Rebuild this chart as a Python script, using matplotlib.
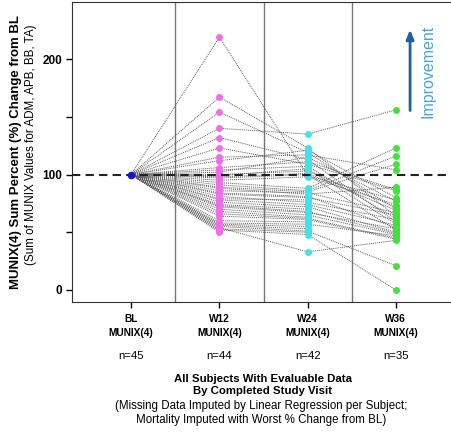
import numpy as np
import matplotlib
matplotlib.use("Agg")
import matplotlib.pyplot as plt

plt.rcParams['font.family'] = ['Liberation Sans', 'DejaVu Sans']

# visits and sample sizes
visits = ["BL\nMUNIX(4)", "W12\nMUNIX(4)", "W24\nMUNIX(4)", "W36\nMUNIX(4)"]
n_labels = ["n=45", "n=44", "n=42", "n=35"]

# % change from BL per subject (None = no value at that visit)
bl = [100] * 45
w12 = [219, 167, 154, 140, 132, 123, 115, 112, 106, 104, 102, 100, 99, 98, 97,
       95, 93, 91, 89, 88, 86, 84, 83, 81, 79, 78, 76, 74, 73, 72, 70, 68, 66,
       64, 60, 58, 57, 56, 55, 54, 53, 52, 51, 50, None]
w24 = [99, 123, 119, 135, 113, 109, 117, 121, 111, 107, 115, 103, 105, 101, 100,
       98, 88, 86, 85, 83, 84, 81, 80, 76, 78, 74, 72, 70, 68, 67, 65, 63, 62,
       61, 59, 57, 55, 53, 51, 33, 50, 48, None, None, None]
w36 = [78, 64, 70, 156, 59, 86, 104, 80, 87, 62, 77, 72, 57, 69, 52,
       74, 123, 116, 109, 89, 67, 54, 65, 61, None, 56, 50, None, 49, 53, 48, None, 45,
       44, None, 47, None, None, 21, 43, None, 0, None, None, None]

colors = ["#1414d8", "#ee6ee8", "#40e2ee", "#42e23c"]

fig = plt.figure(figsize=(4.52, 4.33), dpi=100)
ax = fig.add_axes([72 / 452, 1 - 302 / 433, 1 - 72 / 452, 300 / 433])

data = np.array([bl, w12, w24, w36], dtype=float)
x = np.arange(4)

# subject lines
for s in range(data.shape[1]):
    ys = data[:, s]
    ok = ~np.isnan(ys)
    if ok.sum() > 1:
        ax.plot(x[ok], ys[ok], linestyle=(0, (1, 1)), color="#5a5a5a", lw=0.7, zorder=2)

# separators and reference line
for sep in [0.5, 1.5, 2.5]:
    ax.axvline(sep, color="#777777", lw=1.0, zorder=1)
ax.axhline(100, color="#222222", lw=1.5, linestyle=(0, (4, 2.5)), zorder=4)

for i in range(1, 4):
    ys = data[i][~np.isnan(data[i])]
    ax.plot(np.full(len(ys), i), ys, "o", color=colors[i], ms=5, mec="none", zorder=3)
ax.plot([0], [100], "o", color=colors[0], ms=5.5, mec="none", zorder=5)

ax.set_xlim(-0.67, 3.635)
ax.set_ylim(-10.4, 249.4)
ax.set_yticks([0, 100, 200])
ax.set_yticks([50, 150], minor=True)
ax.tick_params(axis="y", which="both", length=4, width=1, labelsize=8.5, pad=3)
for t in ax.get_yticklabels():
    t.set_fontweight("bold")
ax.set_xticks(x)
ax.set_xticklabels([])
ax.tick_params(axis="x", length=4, width=1)
ax.spines["right"].set_visible(False)
for sp in ["left", "bottom", "top"]:
    ax.spines[sp].set_color("#333333")

# improvement arrow
ax.annotate("", xy=(3.16, 228), xytext=(3.16, 153),
            arrowprops=dict(arrowstyle="-|>,head_width=0.22,head_length=0.55",
                            color="#1f5fa6", lw=2), zorder=6)
ax.text(3.36, 189, "Improvement", rotation=90, ha="center", va="center",
        color="#4aa3d8", fontsize=11.5)

# category labels below axis
for i in range(4):
    xf = (131 + i * 88.3) / 452
    fig.text(xf, 1 - 326 / 433, visits[i], ha="center", va="center",
             fontsize=7.3, fontweight="bold", linespacing=1.45)
    fig.text(xf, 1 - 356 / 433, n_labels[i], ha="center", va="center", fontsize=8.2)

fig.text(263 / 452, 1 - 385 / 433,
         "All Subjects With Evaluable Data\nBy Completed Study Visit",
         ha="center", va="center", fontsize=8.2, fontweight="bold", linespacing=1.2)
fig.text(261 / 452, 1 - 413 / 433,
         "(Missing Data Imputed by Linear Regression per Subject;\n"
         "Mortality Imputed with Worst % Change from BL)",
         ha="center", va="center", fontsize=8.3, linespacing=1.15)

fig.text(16 / 452, 1 - 152 / 433, "MUNIX(4) Sum Percent (%) Change from BL",
         rotation=90, ha="center", va="center", fontsize=9.5, fontweight="bold")
fig.text(31 / 452, 1 - 145 / 433, "(Sum of MUNIX Values for ADM, APB, BB, TA)",
         rotation=90, ha="center", va="center", fontsize=8.4)

fig.savefig("out.png", dpi=100)
